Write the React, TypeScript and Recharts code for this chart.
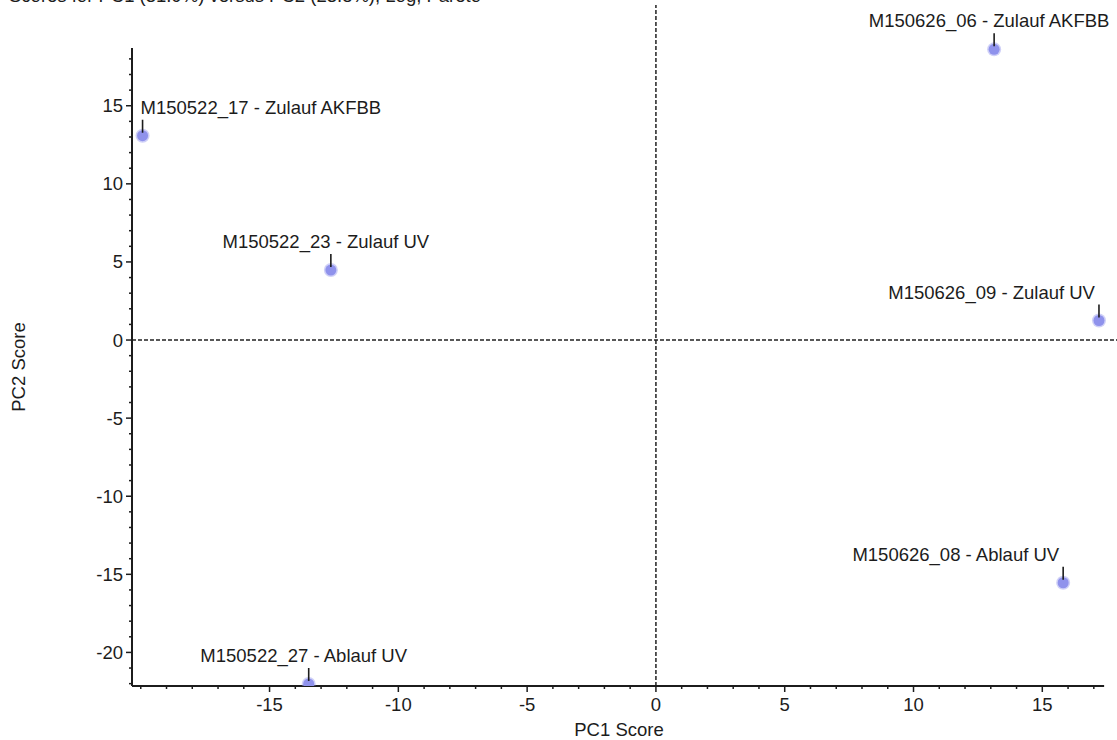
import React from 'react'
import { ScatterChart, Scatter, XAxis, YAxis, ReferenceLine, Label } from 'recharts'

// sample names and PCA scores
const SAMPLES = [
  'M150522_17 - Zulauf AKFBB',
  'M150522_23 - Zulauf UV',
  'M150522_27 - Ablauf UV',
  'M150626_06 - Zulauf AKFBB',
  'M150626_09 - Zulauf UV',
  'M150626_08 - Ablauf UV',
]
const PC1 = [-19.93, -12.62, -13.48, 13.13, 17.2, 15.81]
const PC2 = [13.08, 4.48, -22.02, 18.61, 1.25, -15.54]

const X_TICKS = [-20, -19, -18, -17, -16, -15, -14, -13, -12, -11, -10, -9, -8, -7, -6, -5, -4, -3, -2, -1, 0, 1, 2, 3, 4, 5, 6, 7, 8, 9, 10, 11, 12, 13, 14, 15, 16, 17]
const X_LABELS = [-15, -10, -5, 0, 5, 10, 15]
const Y_TICKS = [-22, -21, -20, -19, -18, -17, -16, -15, -14, -13, -12, -11, -10, -9, -8, -7, -6, -5, -4, -3, -2, -1, 0, 1, 2, 3, 4, 5, 6, 7, 8, 9, 10, 11, 12, 13, 14, 15, 16, 17, 18]
const Y_LABELS = [-20, -15, -10, -5, 0, 5, 10, 15]

const X_MIN = -20.34
const X_MAX = 17.9
const Y_MIN = -22.15
const Y_MAX = 21.45
const X_AXIS_END = 17.4
const Y_AXIS_END = 18.7

const TITLE = 'Scores for PC1 (31.9%) versus PC2 (23.8%), Log, Pareto'

const data = SAMPLES.map((name, i) => ({ name, pc1: PC1[i], pc2: PC2[i] }))

const FONT = '"Liberation Sans", Arial, sans-serif'
const INK = '#1c1c1c'

function XTick(props: any) {
  const { x, y, payload } = props
  const major = X_LABELS.includes(payload.value)
  return (
    <g>
      <line x1={x} x2={x} y1={y} y2={y + (major ? 6 : 3)} stroke={INK} strokeWidth={1.5} />
      {major && (
        <text x={x} y={y + 25} textAnchor="middle" fontSize={18.5} fill={INK} fontFamily={FONT}>
          {payload.value}
        </text>
      )}
    </g>
  )
}

function YTick(props: any) {
  const { x, y, payload } = props
  const major = Y_LABELS.includes(payload.value)
  return (
    <g>
      <line x1={x} x2={x - (major ? 6 : 3)} y1={y} y2={y} stroke={INK} strokeWidth={1.5} />
      {major && (
        <text x={x - 9} y={y + 6.5} textAnchor="end" fontSize={18.5} fill={INK} fontFamily={FONT}>
          {payload.value}
        </text>
      )}
    </g>
  )
}

function PointShape(props: any) {
  const { cx, cy, payload } = props
  let anchor: 'start' | 'middle' | 'end' = 'middle'
  let tx = cx - 5
  if (cx < 200) {
    anchor = 'start'
    tx = cx - 2
  } else if (cx > 1040) {
    anchor = 'end'
    tx = cx - 4
  }
  return (
    <g>
      <circle cx={cx} cy={cy} r={7} fill="#9496ee" fillOpacity={0.45} />
      <circle cx={cx} cy={cy} r={5.5} fill="#8f92ec" />
      <line x1={cx} x2={cx} y1={cy - 16} y2={cy - 3} stroke={INK} strokeWidth={1.6} />
      <text x={tx} y={cy - 22} textAnchor={anchor} fontSize={18.5} fill={INK} fontFamily={FONT}>
        {payload.name}
      </text>
    </g>
  )
}

export default function App() {
  return (
    <div style={{ position: 'absolute', left: 0, top: 0, width: 1117, height: 740, background: '#fff', fontFamily: FONT }}>
      <ScatterChart width={1117} height={740} margin={{ top: 5, right: 0, bottom: 0, left: 0 }}>
        <XAxis
          type="number"
          dataKey="pc1"
          domain={[X_MIN, X_MAX]}
          allowDataOverflow
          ticks={X_TICKS}
          interval={0}
          height={54}
          axisLine={false}
          tickLine={false}
          tickSize={0}
          tickMargin={0}
          tick={<XTick />}
        >
          <Label
            content={() => (
              <text x={619} y={736} textAnchor="middle" fontSize={18.5} fill={INK} fontFamily={FONT}>
                PC1 Score
              </text>
            )}
          />
        </XAxis>
        <YAxis
          type="number"
          dataKey="pc2"
          domain={[Y_MIN, Y_MAX]}
          allowDataOverflow
          ticks={Y_TICKS}
          interval={0}
          width={132}
          axisLine={false}
          tickLine={false}
          tickSize={0}
          tickMargin={0}
          tick={<YTick />}
        >
          <Label
            content={() => (
              <text
                x={25}
                y={367}
                transform="rotate(-90 25 367)"
                textAnchor="middle"
                fontSize={18.5}
                fill={INK}
                fontFamily={FONT}
              >
                PC2 Score
              </text>
            )}
          />
        </YAxis>
        <ReferenceLine x={0} stroke="#222" strokeWidth={1.5} strokeDasharray="4 2" />
        <ReferenceLine y={0} stroke="#222" strokeWidth={1.5} strokeDasharray="4 2" />
        <ReferenceLine
          segment={[{ x: X_MIN, y: Y_MIN }, { x: X_AXIS_END, y: Y_MIN }]}
          stroke={INK}
          strokeWidth={2}
          ifOverflow="visible"
        />
        <ReferenceLine
          segment={[{ x: X_MIN, y: Y_MIN }, { x: X_MIN, y: Y_AXIS_END }]}
          stroke={INK}
          strokeWidth={2}
          ifOverflow="visible"
        />
        <Scatter data={data} shape={<PointShape />} isAnimationActive={false} />
      </ScatterChart>
      <svg width={1117} height={20} style={{ position: 'absolute', left: 0, top: 0, pointerEvents: 'none' }}>
        <text x={9} y={2} fontSize={18.5} fill={INK} fontFamily={FONT}>
          {TITLE}
        </text>
      </svg>
    </div>
  )
}
